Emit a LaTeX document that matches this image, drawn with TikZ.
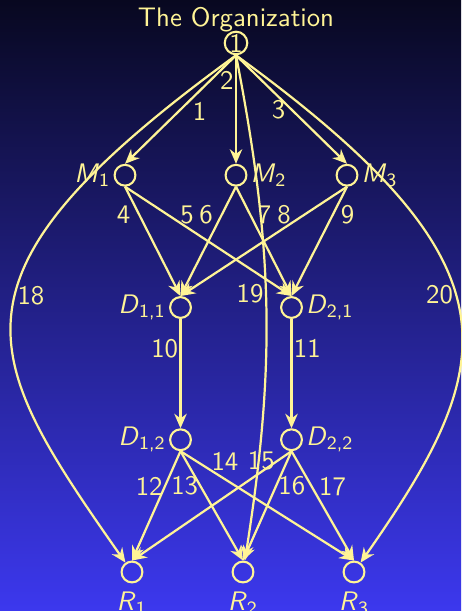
\documentclass[tikz,border=0pt]{standalone}
\usepackage{fontspec}
\usepackage{tikz}
\usetikzlibrary{arrows.meta,positioning}
\definecolor{nightblue}{RGB}{8,8,32}
\definecolor{slideblue}{RGB}{60,56,238}
\definecolor{paleyellow}{RGB}{255,244,150}

\begin{document}
\begin{tikzpicture}[
  x=1.5cm, y=1.787cm,
  font=\sffamily\fontsize{10.3pt}{12pt}\selectfont,
  vtx/.style={circle, draw=paleyellow, line width=0.8pt, minimum size=8pt, inner sep=0pt, text=paleyellow},
  lbl/.style={inner sep=1pt, text=paleyellow},
  elab/.style={inner sep=0.5pt, text=paleyellow},
  arrow/.style={-{Stealth[length=5.6pt, width=4.8pt]}, line width=0.85pt, draw=paleyellow}
]

  % Slide background
  \shade[top color=nightblue, bottom color=slideblue] (-2.126,0.325) rectangle (2.027,-4.295);
  \useasboundingbox (-2.126,0.325) rectangle (2.027,-4.295);

  % Layer 1: the organization
  \node[text=paleyellow, anchor=base] (title) at (0,0.121) {The Organization};
  \node[vtx] (org) at (0,0) {1};

  % Layer 2: managers
  \node[vtx, label={[lbl]left:\textit{M}\textsubscript{1}}] (m1) at (-1,-1) {};
  \node[vtx, label={[lbl]right:\textit{M}\textsubscript{2}}] (m2) at (0,-1) {};
  \node[vtx, label={[lbl]right:\textit{M}\textsubscript{3}}] (m3) at (1,-1) {};

  % Layer 3 and 4: departments
  \node[vtx, label={[lbl]left:\textit{D}\textsubscript{1,1}}] (d11) at (-0.5,-2) {};
  \node[vtx, label={[lbl]right:\textit{D}\textsubscript{2,1}}] (d21) at (0.5,-2) {};
  \node[vtx, label={[lbl]left:\textit{D}\textsubscript{1,2}}] (d12) at (-0.5,-3) {};
  \node[vtx, label={[lbl]right:\textit{D}\textsubscript{2,2}}] (d22) at (0.5,-3) {};

  % Layer 5: results
  \node[vtx, label={[lbl, yshift=-2pt]below:\textit{R}\textsubscript{1}}] (r1) at (-0.937,-4) {};
  \node[vtx, label={[lbl, yshift=-2pt]below:\textit{R}\textsubscript{2}}] (r2) at (0.063,-4) {};
  \node[vtx, label={[lbl, yshift=-2pt]below:\textit{R}\textsubscript{3}}] (r3) at (1.063,-4) {};

  % Organization to managers
  \draw[arrow] (org.south) -- node[elab, below right, pos=0.41] {1} (m1.north);
  \draw[arrow] (org.south) -- node[elab, left, pos=0.23] {2} (m2.north);
  \draw[arrow] (org.south) -- node[elab, left=1.5pt, pos=0.5] {3} (m3.north);

  % Managers to departments
  \draw[arrow] (m1.south) -- node[elab, left=2.5pt, pos=0.255] {4} (d11.north);
  \draw[arrow] (m1.south) -- node[elab, right=4pt, pos=0.255] {5} (d21.north);
  \draw[arrow] (m2.south) -- node[elab, left=2.6pt, pos=0.255] {6} (d11.north);
  \draw[arrow] (m2.south) -- node[elab, right=2pt, pos=0.255] {7} (d21.north);
  \draw[arrow] (m3.south) -- node[elab, left=4.4pt, pos=0.255] {8} (d11.north);
  \draw[arrow] (m3.south) -- node[elab, right=2.2pt, pos=0.255] {9} (d21.north);

  % Down the department chains
  \draw[arrow] (d11.south) -- node[elab, left, pos=0.27] {10} (d12.north);
  \draw[arrow] (d21.south) -- node[elab, right, pos=0.27] {11} (d22.north);

  % Departments to results
  \draw[arrow] (d12.south) -- node[elab, left, pos=0.32] {12} (r1.north);
  \draw[arrow] (d12.south) -- node[elab, left, pos=0.32] {13} (r2.north);
  \draw[arrow] (d12.south) -- node[elab, right=5pt, pos=0.09] {14} (r3.north);
  \draw[arrow] (d22.south) -- node[elab, left, pos=0.09] {15} (r1.north);
  \draw[arrow] (d22.south) -- node[elab, right, pos=0.32] {16} (r2.north);
  \draw[arrow] (d22.south) -- node[elab, right=2pt, pos=0.32] {17} (r3.north);

  % Long direct lines from the organization
  \draw[arrow] (org.south) to[out=216, in=125, out looseness=1.85, in looseness=1.26] node[elab, right, pos=0.46] {18} (r1);
  \draw[arrow] (org.south) to[bend left=10] node[elab, left, pos=0.47] {19} (r2);
  \draw[arrow] (org.south) to[out=-36, in=55, out looseness=1.75, in looseness=1.2] node[elab, left, pos=0.46] {20} (r3);

\end{tikzpicture}
\end{document}
